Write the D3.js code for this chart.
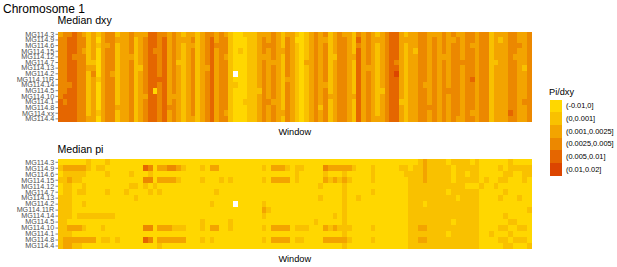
<!DOCTYPE html>
<html><head><meta charset="utf-8">
<script src="https://cdn.jsdelivr.net/npm/d3@7"></script>
<style>
html,body{margin:0;padding:0;background:#fff;}
svg{display:block;font-family:"Liberation Sans",Arial,Helvetica,sans-serif;}
</style></head>
<body><svg id="c" width="617" height="267"></svg>
<script>
// ---- data ----
const windows = d3.range(1, 101);
const samplesDxy = ["MG114.3","MG114.9","MG114.6","MG114.15","MG114.12","MG114.7","MG114.13","MG114.2","MG114.11R","MG114.14","MG114.5","MG114.10","MG114.1","MG114.8","MG114.xx","MG114.4"];
const samplesPi = ["MG114.3","MG114.9","MG114.6","MG114.15","MG114.12","MG114.7","MG114.13","MG114.2","MG114.11R","MG114.14","MG114.5","MG114.10","MG114.1","MG114.8","MG114.4"];
const binLabels = ["(-0.01,0]","(0,0.001]","(0.001,0.0025]","(0.0025,0.005]","(0.005,0.01]","(0.01,0.02]"];
const binColors = ["#FFD700","#F9C100","#F3A400","#EC8800","#E56600","#DC4500"];
// bin index per window ('.' = missing)
const dxyBins = [
"2334321212 3312232224 4332321221 2332321001 1122232122 1012323123 2213232123 4421223322 2323223323 3122233223",
"3344331202 3322231234 4342322231 2342331000 1123232132 0012322123 3214232223 4422223323 2322323323 3121233223",
"3344331212 2312231234 4342321221 2343331000 1123332132 1012323123 3213232123 4421223323 2323323223 3122233323",
"3344321202 3312231234 3342321231 2342331010 1123232232 1012323123 3214232123 4421213323 2323323323 3122233223",
"3343331202 3312221234 4342321231 2342321000 1122232132 1012323113 3224232123 4421223323 2223323323 3122232223",
"3344331102 3312231234 4342311231 2342331000 1123222132 1022323123 3214232123 4321223323 2323333323 3112233223",
"3344332202 3312231134 4342321231 2242331000 1123232132 1012323123 3214222123 4421223323 2323323323 3122233213",
"3344331302 3212231234 4342321231 2342331.00 1123232132 1012323123 3214232123 4521223323 2323323323 3122233223",
"3344331212 3312231234 4442321231 2342331000 1123232122 1012323123 3214232123 4421223323 2323323423 3122233223",
"3334331202 3312231234 4342321231 2342331100 1123232132 1012322123 3214232123 4421223223 2323323323 3122233223",
"3344331202 3312231234 0342321231 2342331000 1113232132 1012323123 3214232113 4421223323 2333323323 3122233223",
"3444331202 3312231224 4342221231 2342331000 1123232132 1012323223 3224232123 4421223323 2323323323 3122233223",
"4344331202 3312231234 4342321231 2342331001 1123322132 1012323123 3214232123 4411223323 2323323323 3122233233",
"4444331202 3322231234 4343321231 2342331000 1123232132 1012313123 3214232123 4421223333 2323323323 3122233223",
"4444331212 3312231234 4342321231 2342321000 1123232232 1012323123 3214232123 4421223323 2323323223 3122243223",
"4444332202 3312231234 4342321221 2342331000 1123232132 1012323123 3214232223 4421223323 2323223323 3122233223"
];
const piBins = [
"0000001000 1000000000 0000000000 0000000000 0000000000 0000000000 0000000000 0000001211 1101111010 0000010000",
"1222221011 0000000043 0223321000 1022000000 0001022210 1100003222 2210001000 0011011211 1110111110 0001011111",
"0111110000 1000010001 0000000000 0000000000 0000000000 1000001000 1000001000 0001111211 1110110110 0000110011",
"1121100000 0000000033 0222210000 1000101000 0001022220 1000002121 2100001000 0000111211 1110111110 1001100010",
"0110010000 0000011010 1000000000 0000000000 0000000000 0000010000 1000000000 0000111111 1111110001 0010000000",
"0110110000 1000100001 0100000000 0001000000 0000000000 0000000000 1000001000 0000111111 1101111110 0000100000",
"1110000000 0000001000 0000000000 0000000000 0000000000 0000010000 1001000000 0000111111 1111011110 0001000100",
"1110010000 0000000000 0000000000 0010000.00 0001000000 0000000000 1000000000 0000111011 1111111110 0000000000",
"1110000000 0000000000 0000000000 0000000000 0002100000 0000000000 1000000000 0000111111 1111111110 0000000001",
"1110111111 1100000000 0000000000 0000000000 0001000000 0000000010 1000000000 0000111111 1111111110 0000100000",
"1100000000 0000000000 0000000000 1000001000 0000000000 0000100000 1000000000 0000111111 1110111110 0000011000",
"1122210001 0000000033 0222111000 1022001000 0001022220 1110002121 1100001000 0000112211 1111111110 0001100110",
"1110000000 0000000000 0000000000 0000000000 0000000000 0000000000 1000000000 0000111111 1101111110 0100010000",
"1222222201 1010000043 0222222000 1010000000 0001022220 1100002222 2100001000 0000112211 1111111110 0001101110",
"1221100000 0000000000 0100000000 0000000000 0000000000 0000000000 1000000000 0000111111 1111111110 0000110001"
];

// ---- drawing ----
const svg = d3.select("#c");
const color = d3.scaleOrdinal().domain(d3.range(binLabels.length)).range(binColors);
const x = d3.scaleBand().domain(windows).range([58, 531.5]).padding(0);

function toCells(rows, samples) {
  const cells = [];
  rows.forEach((r, i) => {
    r.replace(/\s+/g, "").split("").forEach((ch, j) => {
      if (ch !== ".") cells.push({sample: samples[i], win: windows[j], bin: +ch});
    });
  });
  return cells;
}

function panel(rows, samples, y0, y1, title, titleY, xTitleY) {
  const y = d3.scaleBand().domain(samples).range([y0, y1]).padding(0);
  const g = svg.append("g");
  g.selectAll("rect").data(toCells(rows, samples)).join("rect")
    .attr("x", d => x(d.win)).attr("y", d => y(d.sample))
    .attr("width", x.bandwidth()).attr("height", y.bandwidth())
    .attr("fill", d => color(d.bin))
    .attr("shape-rendering", "crispEdges");
  const ax = svg.append("g").attr("transform", "translate(58,0)")
    .call(d3.axisLeft(y).tickSize(2.5).tickPadding(1.2));
  ax.select(".domain").remove();
  ax.selectAll(".tick line").attr("stroke", "#333").attr("stroke-width", 0.6);
  ax.selectAll(".tick text").attr("fill", "#4D4D4D").style("font-size", "7.2px")
    .style("font-family", '"Liberation Sans",Arial,sans-serif');
  svg.append("text").attr("x", 57.5).attr("y", titleY).text(title)
    .style("font-size", "10.6px").attr("fill", "#000");
  svg.append("text").attr("x", (58 + 531.5) / 2).attr("y", xTitleY).text("Window")
    .attr("text-anchor", "middle").style("font-size", "9.2px").attr("fill", "#000");
}

svg.append("text").attr("x", 3).attr("y", 13).text("Chromosome 1")
  .style("font-size", "12px").attr("fill", "#000");
panel(dxyBins, samplesDxy, 31.5, 121.7, "Median dxy", 24, 134.5);
panel(piBins, samplesPi, 159.3, 249, "Median pi", 152.5, 261.5);

// legend
const lg = svg.append("g");
lg.append("text").attr("x", 549).attr("y", 95).text("Pi/dxy").style("font-size", "9.2px");
const ky = d3.scaleBand().domain(binLabels).range([99.5, 175.5]);
lg.selectAll("rect").data(binLabels).join("rect")
  .attr("x", 549.5).attr("y", d => ky(d)).attr("width", 12.7).attr("height", ky.bandwidth())
  .attr("fill", (d, i) => binColors[i]).attr("shape-rendering", "crispEdges");
lg.selectAll("text.lab").data(binLabels).join("text").attr("class", "lab")
  .attr("x", 566).attr("y", d => ky(d) + ky.bandwidth() / 2).attr("dy", "0.35em")
  .text(d => d).style("font-size", "7.4px").attr("fill", "#000");
</script></body></html>
